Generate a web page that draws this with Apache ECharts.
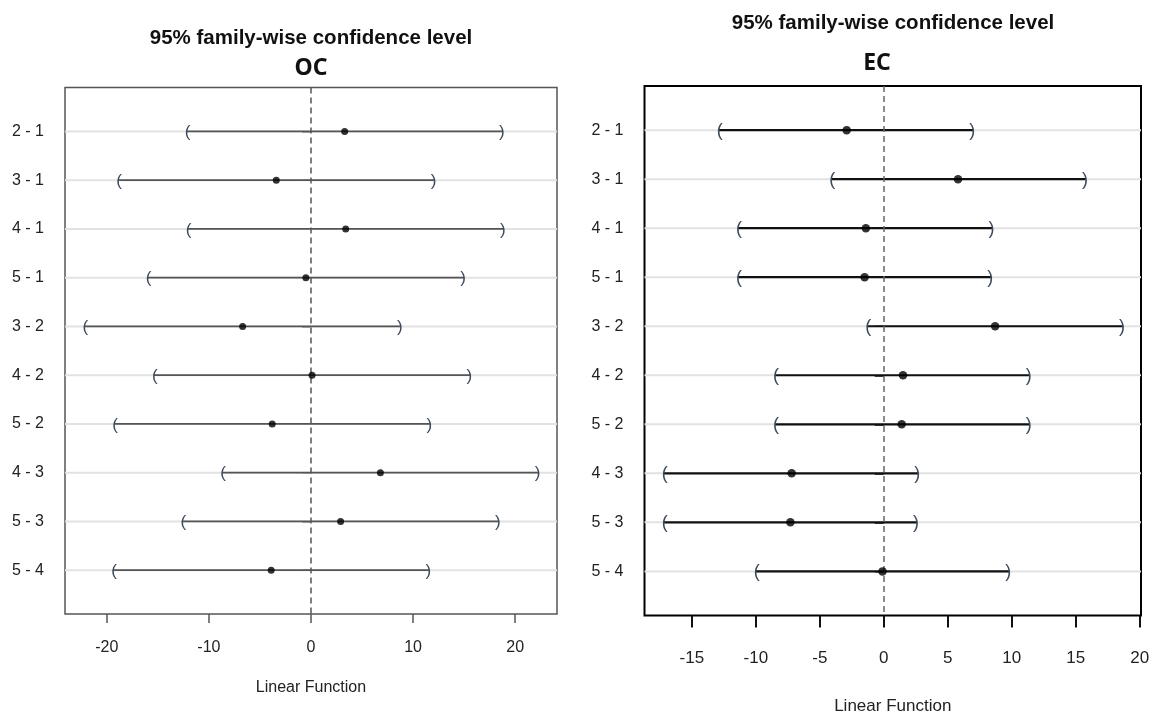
<!DOCTYPE html>
<html>
<head>
<meta charset="utf-8">
<title>Tukey HSD - OC / EC</title>
<script src="https://cdn.jsdelivr.net/npm/echarts@6/dist/echarts.min.js"></script>
<style>
  html, body { margin: 0; padding: 0; background: #fff; }
  #main { width: 1150px; height: 713px; }
</style>
</head>
<body>
<div id="main"></div>
<script>
// comparisons, top to bottom
const comparisons = ['2 - 1', '3 - 1', '4 - 1', '5 - 1', '3 - 2', '4 - 2', '5 - 2', '4 - 3', '5 - 3', '5 - 4'];

// OC panel: difference and 95% interval
const ocDiff  = [3.3, -3.4, 3.4, -0.5, -6.7, 0.1, -3.8, 6.8, 2.9, -3.9];
const ocLower = [-12.2, -18.9, -12.1, -16.0, -22.2, -15.4, -19.3, -8.7, -12.6, -19.4];
const ocUpper = [18.8, 12.1, 18.9, 15.0, 8.8, 15.6, 11.7, 22.3, 18.4, 11.6];

// EC panel
const ecDiff  = [-2.9, 5.8, -1.4, -1.5, 8.7, 1.5, 1.4, -7.2, -7.3, -0.1];
const ecLower = [-12.9, -4.1, -11.4, -11.4, -1.3, -8.5, -8.5, -17.2, -17.2, -10.0];
const ecUpper = [7.0, 15.8, 8.5, 8.4, 18.7, 11.4, 11.4, 2.7, 2.6, 9.8];

// tick labels
const ocTicks = [-20, -10, 0, 10, 20];
const ecTicks = [-15, -10, -5, 0, 5, 10, 15, 20];
const rows = comparisons.map((c, i) => i + 1);

const FONT = '"Liberation Sans", Arial, sans-serif';

function intervalData(lower, upper) {
  return rows.map((r, i) => [r, lower[i], upper[i]]);
}
function pointData(diff) {
  return rows.map((r, i) => [diff[i], r]);
}

// draws row grid line, interval segment and the ( ) end marks
function makeRender(color, width, bracketColor, bracketSize) {
  return function (params, api) {
    const row = api.value(0);
    const lo = api.coord([api.value(1), row]);
    const hi = api.coord([api.value(2), row]);
    const cs = params.coordSys;
    const bracketFont = bracketSize + 'px ' + FONT;
    return {
      type: 'group',
      children: [
        { type: 'line', z2: 0, shape: { x1: cs.x, y1: lo[1], x2: cs.x + cs.width, y2: lo[1] },
          style: { stroke: '#e2e2e2', lineWidth: 2 } },
        { type: 'line', z2: 1, shape: { x1: lo[0], y1: lo[1], x2: hi[0], y2: hi[1] },
          style: { stroke: color, lineWidth: width } },
        { type: 'text', z2: 2, x: lo[0] + 1, y: lo[1] + 1,
          style: { text: '(', font: bracketFont, fill: bracketColor, align: 'center', verticalAlign: 'middle' } },
        { type: 'text', z2: 2, x: hi[0] - 1, y: hi[1] + 1,
          style: { text: ')', font: bracketFont, fill: bracketColor, align: 'center', verticalAlign: 'middle' } }
      ]
    };
  };
}

function yAxisFor(gridIndex, tickColor, tickWidth) {
  return {
    type: 'value', gridIndex: gridIndex, min: 0.1, max: 10.9, inverse: true,
    axisLine: { show: false },
    splitLine: { show: false },
    axisTick: { show: true, customValues: rows, length: 9, lineStyle: { color: tickColor, width: tickWidth } },
    axisLabel: {
      customValues: rows, margin: 21, color: '#222', fontSize: 16, fontFamily: FONT,
      formatter: v => comparisons[Math.round(v) - 1]
    }
  };
}

function xAxisFor(gridIndex, min, max, ticks, tickColor, tickWidth, tickLen, fontSize, margin, nameGap) {
  return {
    type: 'value', gridIndex: gridIndex, min: min, max: max,
    name: 'Linear Function', nameLocation: 'middle', nameGap: nameGap,
    nameTextStyle: { color: '#222', fontSize: fontSize, fontFamily: FONT },
    axisLine: { show: false },
    splitLine: { show: false },
    axisTick: { show: true, customValues: ticks, length: tickLen, lineStyle: { color: tickColor, width: tickWidth } },
    axisLabel: { customValues: ticks, margin: margin, color: '#222', fontSize: fontSize, fontFamily: FONT }
  };
}

const chart = echarts.init(document.getElementById('main'));
chart.setOption({
  backgroundColor: '#fff',
  animation: false,
  grid: [
    { left: 65, top: 87.5, width: 492, height: 526.5, show: true, borderColor: '#555', borderWidth: 1.5,
      containLabel: false, outerBoundsMode: 'none' },
    { left: 644.5, top: 86, width: 496.5, height: 529.5, show: true, borderColor: '#000', borderWidth: 2,
      containLabel: false, outerBoundsMode: 'none' }
  ],
  xAxis: [
    xAxisFor(0, -24.1, 24.1, ocTicks, '#555', 1.5, 9, 16, 26, 66),
    xAxisFor(1, -18.7, 20.1, ecTicks, '#111', 2, 12, 17, 34, 82)
  ],
  yAxis: [
    yAxisFor(0, '#555', 1.5),
    yAxisFor(1, '#111', 2)
  ],
  graphic: [
    { type: 'text', x: 311, y: 38, style: { text: '95% family-wise confidence level', font: 'bold 20.5px ' + FONT, fill: '#111', align: 'center', verticalAlign: 'middle' } },
    { type: 'text', x: 311, y: 68, style: { text: 'OC', font: 'bold 23px "Noto Sans", sans-serif', fill: '#111', align: 'center', verticalAlign: 'middle' } },
    { type: 'text', x: 893, y: 23, style: { text: '95% family-wise confidence level', font: 'bold 20.5px ' + FONT, fill: '#111', align: 'center', verticalAlign: 'middle' } },
    { type: 'text', x: 877, y: 63, style: { text: 'EC', font: 'bold 23px "Noto Sans", sans-serif', fill: '#111', align: 'center', verticalAlign: 'middle' } }
  ],
  series: [
    {
      type: 'custom', name: 'OC interval', xAxisIndex: 0, yAxisIndex: 0, z: 2,
      renderItem: makeRender('#555', 1.6, '#3d4a5c', 17),
      encode: { x: [1, 2], y: 0 },
      data: intervalData(ocLower, ocUpper)
    },
    {
      type: 'scatter', name: 'OC diff', xAxisIndex: 0, yAxisIndex: 0, z: 4,
      symbolSize: 7, itemStyle: { color: '#000' },
      data: pointData(ocDiff),
      markLine: {
        silent: true, symbol: 'none', z: 3, label: { show: false },
        lineStyle: { color: '#555', type: [6, 4], width: 1.5 },
        data: [{ xAxis: 0 }]
      }
    },
    {
      type: 'custom', name: 'EC interval', xAxisIndex: 1, yAxisIndex: 1, z: 2,
      renderItem: makeRender('#111', 2.2, '#3d4a5c', 18),
      encode: { x: [1, 2], y: 0 },
      data: intervalData(ecLower, ecUpper)
    },
    {
      type: 'scatter', name: 'EC diff', xAxisIndex: 1, yAxisIndex: 1, z: 4,
      symbolSize: 8.5, itemStyle: { color: '#000' },
      data: pointData(ecDiff),
      markLine: {
        silent: true, symbol: 'none', z: 3, label: { show: false },
        lineStyle: { color: '#666', type: [6, 4], width: 1.5 },
        data: [{ xAxis: 0 }]
      }
    }
  ]
});
window.addEventListener('resize', () => chart.resize());
</script>
</body>
</html>
